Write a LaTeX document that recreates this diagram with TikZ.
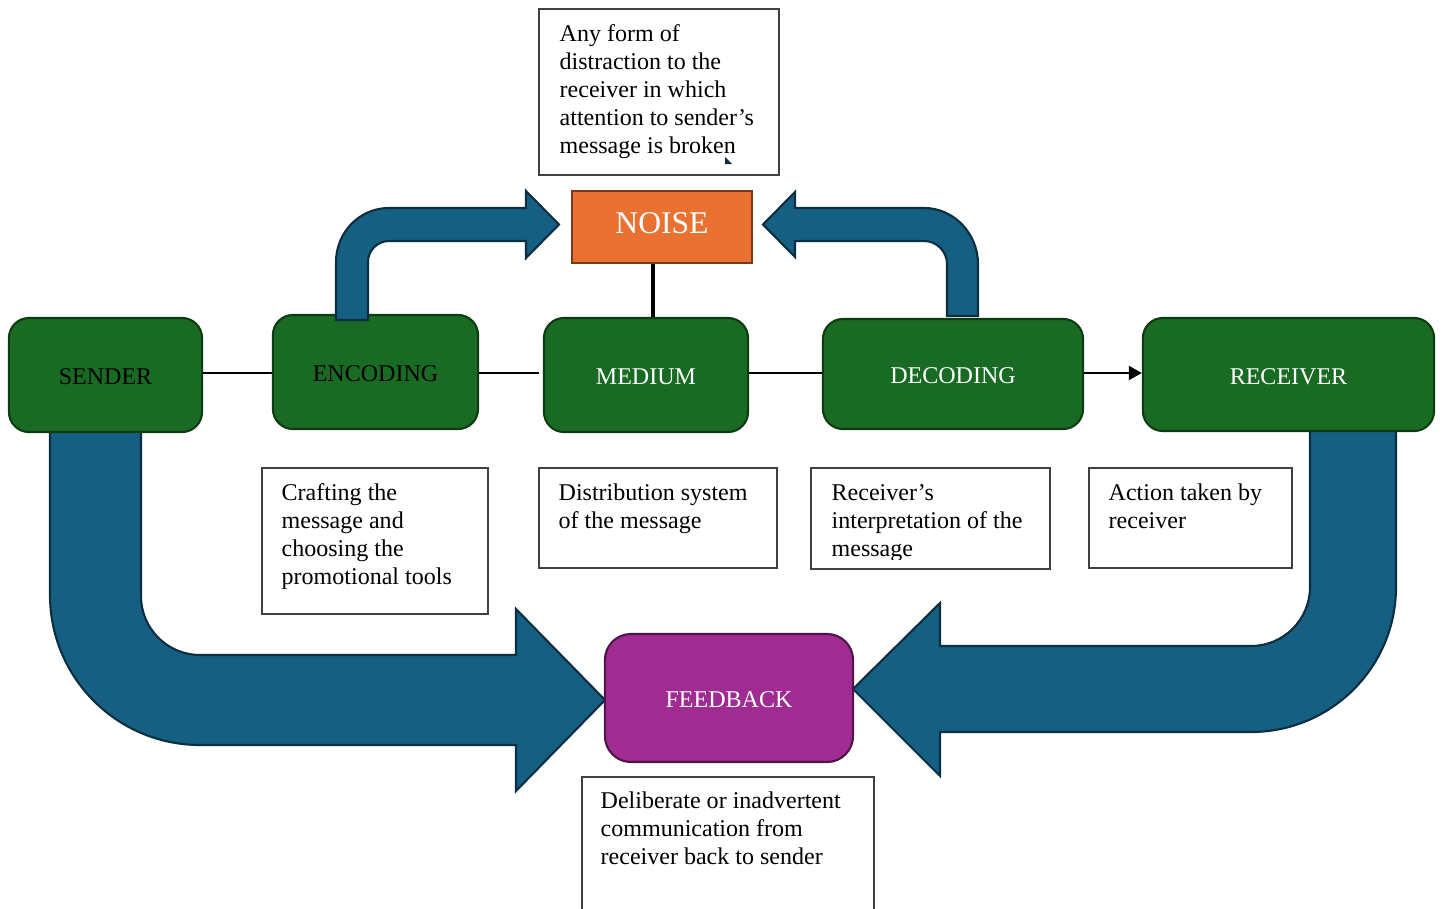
\documentclass[tikz,border=0pt]{standalone}
\usepackage{fontspec}
\setmainfont{Liberation Serif}
\usetikzlibrary{arrows.meta,calc}

\definecolor{gfill}{HTML}{196B24}
\definecolor{gline}{HTML}{0E3B14}
\definecolor{bfill}{HTML}{156082}
\definecolor{bline}{HTML}{0B2E40}
\definecolor{ofill}{HTML}{E97132}
\definecolor{oline}{HTML}{7B3A17}
\definecolor{pfill}{HTML}{A02B93}
\definecolor{pline}{HTML}{4E1548}
\definecolor{nline}{HTML}{404040}

\newcommand\labelsize{\fontsize{6.83pt}{8pt}\selectfont}
\newcommand\notesize{\fontsize{6.83pt}{7.97pt}\selectfont}
\newcommand\noisesize{\fontsize{9pt}{10pt}\selectfont}

\begin{document}
\begin{tikzpicture}[x=0.01cm,y=-0.01cm,
  stage/.style={draw=gline, fill=gfill, line width=0.6pt, rounded corners=0.2cm,
    inner sep=0pt, font=\labelsize, text height=5.66pt, text depth=0pt},
  flow/.style={draw=bline, fill=bfill, line width=0.6pt, line join=miter},
  notebox/.style={draw=nline, line width=0.45pt, inner sep=0pt, anchor=north west},
  note/.style={anchor=north west, inner sep=0pt, align=left, font=\notesize},
  link/.style={line width=0.6pt}]

\useasboundingbox (0,0) rectangle (1444,909);

% lower block arrows: sender -> feedback, receiver -> feedback
\draw[flow] (50,428) -- (50,595)
  .. controls (50,677.8) and (117.2,745) .. (200,745)
  -- (516,745) -- (516,791) -- (605,700) -- (516,609) -- (516,655) -- (200,655)
  .. controls (167.4,655) and (141,628.6) .. (141,596)
  -- (141,428) -- cycle;
\draw[flow] (1310,428) -- (1310,587)
  .. controls (1310,619.6) and (1283.6,646) .. (1251,646)
  -- (940,646) -- (940,603) -- (853,689) -- (940,776) -- (940,732) -- (1251,732)
  .. controls (1331.1,732) and (1396,667.1) .. (1396,587)
  -- (1396,428) -- cycle;

% stages
\node[stage, minimum width=1.93cm, minimum height=1.14cm] (send) at (105.5,375) {SENDER};
\node[stage, minimum width=2.05cm, minimum height=1.14cm] (enc) at (375.5,372) {ENCODING};
\node[stage, minimum width=2.04cm, minimum height=1.14cm, text=white] (med) at (646,375) {MEDIUM};
\node[stage, minimum width=2.60cm, minimum height=1.10cm, text=white] (dec) at (953,374) {DECODING};
\node[stage, minimum width=2.91cm, minimum height=1.13cm, text=white] (recv) at (1288.5,374.5) {RECEIVER};
\node[draw=pline, fill=pfill, line width=0.6pt, rounded corners=0.26cm, inner sep=0pt,
  minimum width=2.48cm, minimum height=1.28cm, text=white, font=\labelsize,
  text height=5.66pt, text depth=0pt] (fb) at (729,698) {FEEDBACK};
\node[draw=oline, fill=ofill, line width=0.7pt, inner sep=0pt,
  minimum width=1.80cm, minimum height=0.72cm, text=white, font=\noisesize,
  text height=3.7pt, text depth=0pt] (noise) at (662,227) {NOISE};

% upper block arrows: encoding -> noise, decoding -> noise
\draw[flow] (336,320) -- (336,262)
  .. controls (336,232.6) and (359.3,208) .. (389,208)
  -- (526,208) -- (526,191) -- (559,224.5) -- (526,258) -- (526,241) -- (389,241)
  .. controls (377.4,241) and (368,250.4) .. (368,262)
  -- (368,320) -- cycle;
\draw[flow] (978,316) -- (978,264)
  .. controls (978,233.6) and (954,208) .. (924,208)
  -- (795,208) -- (795,192) -- (763,224.5) -- (795,257) -- (795,241) -- (924,241)
  .. controls (936.7,241) and (947,251.3) .. (947,264)
  -- (947,316) -- cycle;

% connectors
\coordinate (ly) at (0,373);
\coordinate (nx) at (653,0);
\draw[link] (send.east |- ly) -- (enc.west |- ly);
\draw[link] (enc.east |- ly) -- ([xshift=-0.04cm]med.west |- ly);
\draw[link] (med.east |- ly) -- (dec.west |- ly);
\draw[link, -{Triangle[length=0.13cm, width=0.14cm]}] (dec.east |- ly) -- (recv.west |- ly);
\draw[line width=0.9pt] (noise.south -| nx) -- (med.north -| nx);

% notes
\node[notebox, minimum width=2.40cm, minimum height=1.66cm] (noisenote) at (538,8) {};
\node[note] (noisetext) at ($(noisenote.north west)+(21,13.4)$)
  {\strut Any form of\\distraction to the\\receiver in which\\attention to sender’s\\message is broken};
\fill[bline] (725,157) -- (725,164) -- (732,164) -- cycle;

\node[notebox, minimum width=2.26cm, minimum height=1.46cm] (encnote) at (261,467) {};
\node[note] (enctext) at ($(encnote.north west)+(20,13.4)$)
  {\strut Crafting the\\message and\\choosing the\\promotional tools};

\node[notebox, minimum width=2.38cm, minimum height=1.00cm] (mednote) at (538,467) {};
\node[note] (medtext) at ($(mednote.north west)+(20,13.4)$)
  {\strut Distribution system\\of the message};

% the last line of this note is cut off by the text frame's inner margin
\node[notebox, minimum width=2.39cm, minimum height=1.01cm] (decnote) at (810,467) {};
\begin{scope}
  \clip (decnote.north west) rectangle ([yshift=0.10cm]decnote.south east);
  \node[note] (dectext) at ($(decnote.north west)+(21,13.4)$)
    {\strut Receiver’s\\interpretation of the\\message};
\end{scope}

\node[notebox, minimum width=2.03cm, minimum height=1.00cm] (recvnote) at (1088,467) {};
\node[note] (recvtext) at ($(recvnote.north west)+(20,13.4)$)
  {\strut Action taken by\\receiver};

\node[notebox, minimum width=2.92cm, minimum height=1.60cm] (fbnote) at (581,776) {};
\node[note] (fbtext) at ($(fbnote.north west)+(19,12.4)$)
  {\strut Deliberate or inadvertent\\communication from\\receiver back to sender};

\end{tikzpicture}
\end{document}
